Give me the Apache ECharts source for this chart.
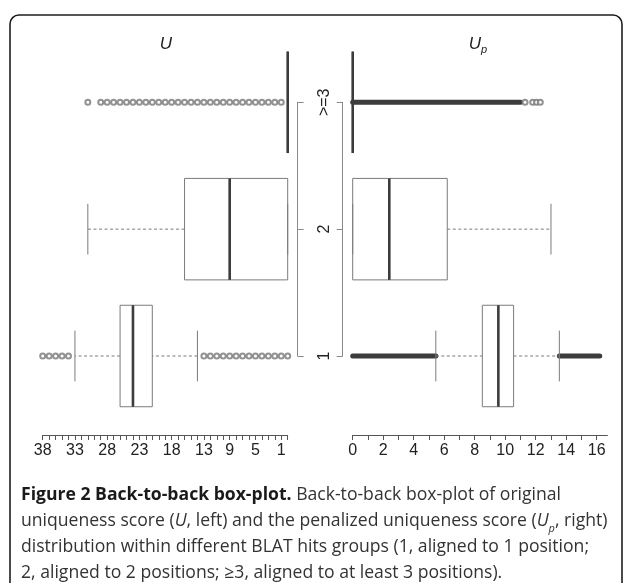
<!DOCTYPE html>
<html>
<head>
<meta charset="utf-8">
<script src="https://cdn.jsdelivr.net/npm/echarts@6/dist/echarts.min.js"></script>
<style>
html, body { margin: 0; padding: 0; background: #fff; }
#chart { width: 625px; height: 583px; }
</style>
</head>
<body>
<div id="chart"></div>
<script>
// BLAT hit groups, drawn bottom to top
const groups = ['1', '2', '>=3'];

// Original uniqueness score U per group: [lower whisker, Q1, median, Q3, upper whisker]
const uStats1 = [14, 21, 24, 26, 33];
const uStats2 = [0, 0, 9, 16, 31];
const uStats3 = [0, 0, 0, 0, 0];
// U outliers per group
const uOutliers1 = [38, 37, 36, 35, 34, 13, 12, 11, 10, 9, 8, 7, 6, 5, 4, 3, 2, 1, 0];
const uOutliers2 = [];
const uOutliers3 = [31, 29, 28, 27, 26, 25, 24, 23, 22, 21, 20, 19, 18, 17, 16, 15, 14, 13, 12, 11, 10, 9, 8, 7, 6, 5, 4, 3, 2, 1];

// Penalized uniqueness score Up per group: [lower whisker, Q1, median, Q3, upper whisker]
const upStats1 = [5.45, 8.5, 9.55, 10.55, 13.55];
const upStats2 = [0, 0, 2.4, 6.2, 13];
const upStats3 = [0, 0, 0, 0, 0];
// Runs of densely packed Up outliers: [group index, from, to]
const upOutlierRuns = [
  [0, 0, 5.45],
  [0, 13.55, 16.2],
  [2, 0, 11.0]
];
// Separate Up outliers in the >=3 group
const upOutliers3 = [11.3, 11.8, 12.05, 12.3];

// Bottom axis ticks and labels
const uTicks = [38, 37, 36, 35, 34, 33, 32, 31, 30, 29, 28, 27, 26, 25, 24, 23, 22, 21, 20, 19, 18, 17, 16, 15, 14, 13, 12, 11, 10, 9, 8, 7, 6, 5, 4, 3, 2, 1, 0];
const uTickLabels = [38, 33, 28, 23, 18, 13, 9, 5, 1];
const upTicks = [0, 1, 2, 3, 4, 5, 6, 7, 8, 9, 10, 11, 12, 13, 14, 15, 16];
const upTickLabels = [0, 2, 4, 6, 8, 10, 12, 14, 16];

const FONT = '"Liberation Sans", Arial, sans-serif';
const CAP_FONT = '"Open Sans", "Noto Sans", sans-serif';
const CAP_SIZE = 17.6;
const THIN = '#7b7b7b';
const DARK = '#3c3c3c';

const chart = echarts.init(document.getElementById('chart'), null, { renderer: 'canvas' });

// Box with dashed whiskers, staples and a heavy median line
function renderBox(params, api) {
  const g = api.value(0);
  const vals = [api.value(1), api.value(2), api.value(3), api.value(4), api.value(5)];
  const xs = vals.map(v => api.coord([v, g])[0]);
  const y = api.coord([vals[2], g])[1];
  const band = Math.abs(api.coord([0, 1])[1] - api.coord([0, 0])[1]);
  const h = band * 0.4;
  const s = h * 0.5;
  const thin = { stroke: THIN, lineWidth: 1, fill: null };
  const dashed = { stroke: THIN, lineWidth: 1, lineDash: [3, 2.5], fill: null };
  return {
    type: 'group',
    children: [
      { type: 'line', shape: { x1: xs[0], y1: y, x2: xs[1], y2: y }, style: dashed },
      { type: 'line', shape: { x1: xs[3], y1: y, x2: xs[4], y2: y }, style: dashed },
      { type: 'line', shape: { x1: xs[0], y1: y - s, x2: xs[0], y2: y + s }, style: thin },
      { type: 'line', shape: { x1: xs[4], y1: y - s, x2: xs[4], y2: y + s }, style: thin },
      { type: 'rect', shape: { x: Math.min(xs[1], xs[3]), y: y - h, width: Math.abs(xs[3] - xs[1]), height: 2 * h }, style: thin },
      { type: 'line', shape: { x1: xs[2], y1: y - h, x2: xs[2], y2: y + h }, style: { stroke: DARK, lineWidth: 2.6 } }
    ]
  };
}

// Thick stroke standing for a run of overlapping outlier circles
function renderRun(params, api) {
  const g = api.value(0);
  const p1 = api.coord([api.value(1), g]);
  const p2 = api.coord([api.value(2), g]);
  return {
    type: 'line',
    shape: { x1: p1[0], y1: p1[1], x2: p2[0], y2: p2[1] },
    style: { stroke: DARK, lineWidth: 5, lineCap: 'round' }
  };
}

function outlierPoints(list, g) { return list.map(v => [v, g]); }

const bracketAxis = (pos, showLabel) => ({
  type: 'category',
  data: groups,
  boundaryGap: false,
  position: pos,
  offset: 10,
  axisLine: { show: true, onZero: false, lineStyle: { color: '#8a8a8a', width: 1 } },
  axisTick: { show: true, length: 6, lineStyle: { color: '#8a8a8a', width: 1 } },
  axisLabel: {
    show: showLabel, rotate: 90, margin: 27, align: 'center', verticalAlign: 'middle',
    fontSize: 16, color: '#222', fontFamily: FONT
  },
  splitLine: { show: false }
});

const scatterStyle = {
  type: 'scatter', symbol: 'emptyCircle', symbolSize: 5, clip: false,
  itemStyle: { color: '#777', borderWidth: 0.9 }, silent: true
};

const option = {
  backgroundColor: '#fff',
  animation: false,
  grid: [
    { left: 42.7, width: 245, top: 102.3, bottom: 227 },
    { left: 352.7, width: 254.7, top: 102.3, bottom: 227 }
  ],
  xAxis: [
    {
      type: 'value', gridIndex: 0, min: 0, max: 38, inverse: true,
      position: 'bottom', offset: 79,
      axisLine: { show: true, onZero: false, lineStyle: { color: '#555', width: 1 } },
      axisTick: { show: true, customValues: uTicks, length: 5, lineStyle: { color: '#555' } },
      axisLabel: { customValues: uTickLabels, fontSize: 16, color: '#222', fontFamily: FONT, margin: 8 },
      splitLine: { show: false }
    },
    {
      type: 'value', gridIndex: 1, min: 0, max: 16.7,
      position: 'bottom', offset: 79,
      axisLine: { show: true, onZero: false, lineStyle: { color: '#555', width: 1 } },
      axisTick: { show: true, customValues: upTicks, length: 5, lineStyle: { color: '#555' } },
      axisLabel: { customValues: upTickLabels, fontSize: 16, color: '#222', fontFamily: FONT, margin: 8 },
      splitLine: { show: false }
    }
  ],
  yAxis: [
    Object.assign({ gridIndex: 0 }, bracketAxis('right', true)),
    Object.assign({ gridIndex: 1 }, bracketAxis('left', false))
  ],
  series: [
    {
      type: 'custom', xAxisIndex: 0, yAxisIndex: 0, renderItem: renderBox, clip: false,
      encode: { x: [1, 2, 3, 4, 5], y: 0 },
      data: [uStats1, uStats2, uStats3].map((s, i) => [i].concat(s))
    },
    Object.assign({ xAxisIndex: 0, yAxisIndex: 0, data: outlierPoints(uOutliers1, 0).concat(outlierPoints(uOutliers2, 1), outlierPoints(uOutliers3, 2)) }, scatterStyle),
    {
      type: 'custom', xAxisIndex: 1, yAxisIndex: 1, renderItem: renderRun, clip: false,
      encode: { x: [1, 2], y: 0 },
      data: upOutlierRuns
    },
    Object.assign({ xAxisIndex: 1, yAxisIndex: 1, data: outlierPoints(upOutliers3, 2) }, scatterStyle),
    {
      type: 'custom', xAxisIndex: 1, yAxisIndex: 1, renderItem: renderBox, clip: false,
      encode: { x: [1, 2, 3, 4, 5], y: 0 },
      data: [upStats1, upStats2, upStats3].map((s, i) => [i].concat(s))
    }
  ],
  graphic: [
    // rounded figure frame
    { type: 'rect', shape: { x: 10, y: 15, width: 612, height: 620, r: 9 }, style: { fill: null, stroke: '#1e1e1e', lineWidth: 1.6 }, silent: true },
    // panel titles
    {
      type: 'text', x: 166, y: 44, silent: true,
      style: { text: 'U', font: 'italic 17px ' + FONT, fill: '#222', align: 'center', verticalAlign: 'middle' }
    },
    {
      type: 'text', x: 478, y: 44, silent: true,
      style: {
        text: '{i|U}{s|p}', align: 'center', verticalAlign: 'middle',
        rich: {
          i: { fontStyle: 'italic', fontSize: 17, fontFamily: FONT, fill: '#222', lineHeight: 22, verticalAlign: 'middle' },
          s: { fontStyle: 'italic', fontSize: 11, fontFamily: FONT, fill: '#222', lineHeight: 22, verticalAlign: 'bottom' }
        }
      }
    },
    // caption
    {
      type: 'text', x: 21, y: 482, silent: true,
      style: {
        text: '{b|Figure 2 Back-to-back box-plot.}{n| Back-to-back box-plot of original}\n' +
              '{n|uniqueness score (}{i|U}{n|, left) and the penalized uniqueness score (}{i|U}{s|p}{n|, right)}\n' +
              '{n|distribution within different BLAT hits groups (1, aligned to 1 position;}\n' +
              '{n|2, aligned to 2 positions; ≥3, aligned to at least 3 positions).}',
        rich: {
          b: { fontFamily: CAP_FONT, fontWeight: 'bold', fontSize: CAP_SIZE, fill: '#1a1a1a', lineHeight: 26, verticalAlign: 'middle' },
          n: { fontFamily: CAP_FONT, fontSize: CAP_SIZE, fill: '#333', lineHeight: 26, verticalAlign: 'middle' },
          i: { fontFamily: CAP_FONT, fontStyle: 'italic', fontSize: CAP_SIZE, fill: '#333', lineHeight: 26, verticalAlign: 'middle' },
          s: { fontFamily: CAP_FONT, fontStyle: 'italic', fontSize: 11, fill: '#333', lineHeight: 26, verticalAlign: 'bottom' }
        }
      }
    }
  ]
};

chart.setOption(option);
</script>
</body>
</html>
